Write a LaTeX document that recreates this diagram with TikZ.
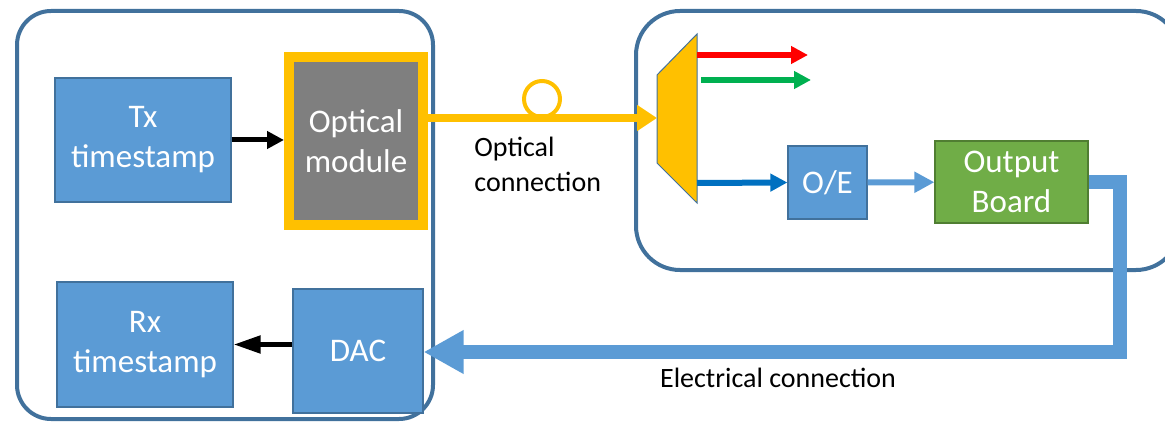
\documentclass[tikz,border=0pt]{standalone}
\usepackage{fontspec}
\setmainfont{Carlito}
\usetikzlibrary{arrows.meta}
\definecolor{boxblue}{HTML}{5B9BD5}
\definecolor{edgeblue}{HTML}{41719C}
\definecolor{optorange}{HTML}{FFC000}
\definecolor{modgray}{HTML}{7F7F7F}
\definecolor{boardgreen}{HTML}{70AD47}
\definecolor{boardedge}{HTML}{507E32}
\definecolor{chred}{HTML}{FF0000}
\definecolor{chgreen}{HTML}{00B050}
\definecolor{chblue}{HTML}{0070C0}
\begin{document}
\begin{tikzpicture}[
        x=0.5pt, y=-0.5pt,
        blockbox/.style={shape=rectangle, draw=edgeblue, line width=0.6pt, fill=boxblue, text=white, align=center, inner sep=0pt, font=\fontsize{16.5}{20}\selectfont},
        container/.style={draw=edgeblue, line width=2pt},
        captiontext/.style={align=left, inner sep=0pt, font=\fontsize{14}{17.5}\selectfont}
    ]
    \clip (0,0) rectangle (1165,422);
    % the two enclosures
    \draw[container, rounded corners=17pt] (17,11) rectangle (433,419);
    \draw[container, rounded corners=22pt] (636,11) rectangle (1180,270);

    % transmitter / receiver card
    \node[blockbox, minimum width=88pt, minimum height=62pt] (tx) at (143,140) {Tx\\ timestamp};
    \node[blockbox, draw=optorange, line width=5pt, fill=modgray, minimum width=67pt, minimum height=84pt] (optmod) at (356,141) {Optical\\ module};
    \node[blockbox, minimum width=88pt, minimum height=62.5pt] (rx) at (145,344.5) {Rx\\ timestamp};
    \node[blockbox, minimum width=65pt, minimum height=62pt] (dac) at (358,351) {DAC};

    % demultiplexer and output side
    \draw[draw=edgeblue, line width=0.5pt, fill=optorange] (657,75) -- (697,34) -- (697,203) -- (657,163) -- cycle;
    \coordinate (muxin) at (657,118);
    \coordinate (redout) at (697,55);
    \coordinate (redend) at (808,55);
    \coordinate (greenout) at (701,80);
    \coordinate (greenend) at (811,80);
    \coordinate (blueout) at (697,183);
    \node[blockbox, minimum width=39.5pt, minimum height=36.5pt] (oe) at (827.5,182.5) {O/E};
    \node[blockbox, draw=boardedge, fill=boardgreen, minimum width=76.5pt, minimum height=41pt] (board) at (1011.5,182) {Output\\ Board};
    \coordinate (elbow) at (1120,352);

    % connectors
    \draw[line width=2.5pt, -{Triangle[length=8.5pt,width=8.5pt]}] (tx.east) -- (tx.east -| optmod.west);
    \draw[line width=2.5pt, -{Triangle[length=13.5pt,width=8.5pt]}] (dac.west |- rx.east) -- (rx.east);
    \draw[optorange, line width=4pt, -{Triangle[length=10pt,width=12.5pt]}] (optmod.east |- muxin) -- (muxin);
    \draw[optorange, line width=2pt] (542,99) circle[radius=9pt];
    \draw[chred, line width=3pt, -{Triangle[length=8.5pt,width=8.5pt]}] (redout) -- (redend);
    \draw[chgreen, line width=3pt, -{Triangle[length=8.5pt,width=8.5pt]}] (greenout) -- (greenend);
    \draw[chblue, line width=3pt, -{Triangle[length=8.5pt,width=8.5pt]}] (blueout) -- (oe.west);
    \draw[boxblue, line width=3pt, -{Triangle[length=10pt,width=10pt]}] (oe) -- (board);
    \draw[boxblue, line width=7pt, miter limit=4, -{Triangle[length=20pt,width=20.5pt]}] (board.east) -| (elbow) -- (elbow -| dac.east);

    % labels
    \node[captiontext, anchor=west] (optlabel) at (474,164.5) {Optical\\ connection};
    \node[captiontext] (eleclabel) at (778,378) {Electrical connection};
\end{tikzpicture}
\end{document}
